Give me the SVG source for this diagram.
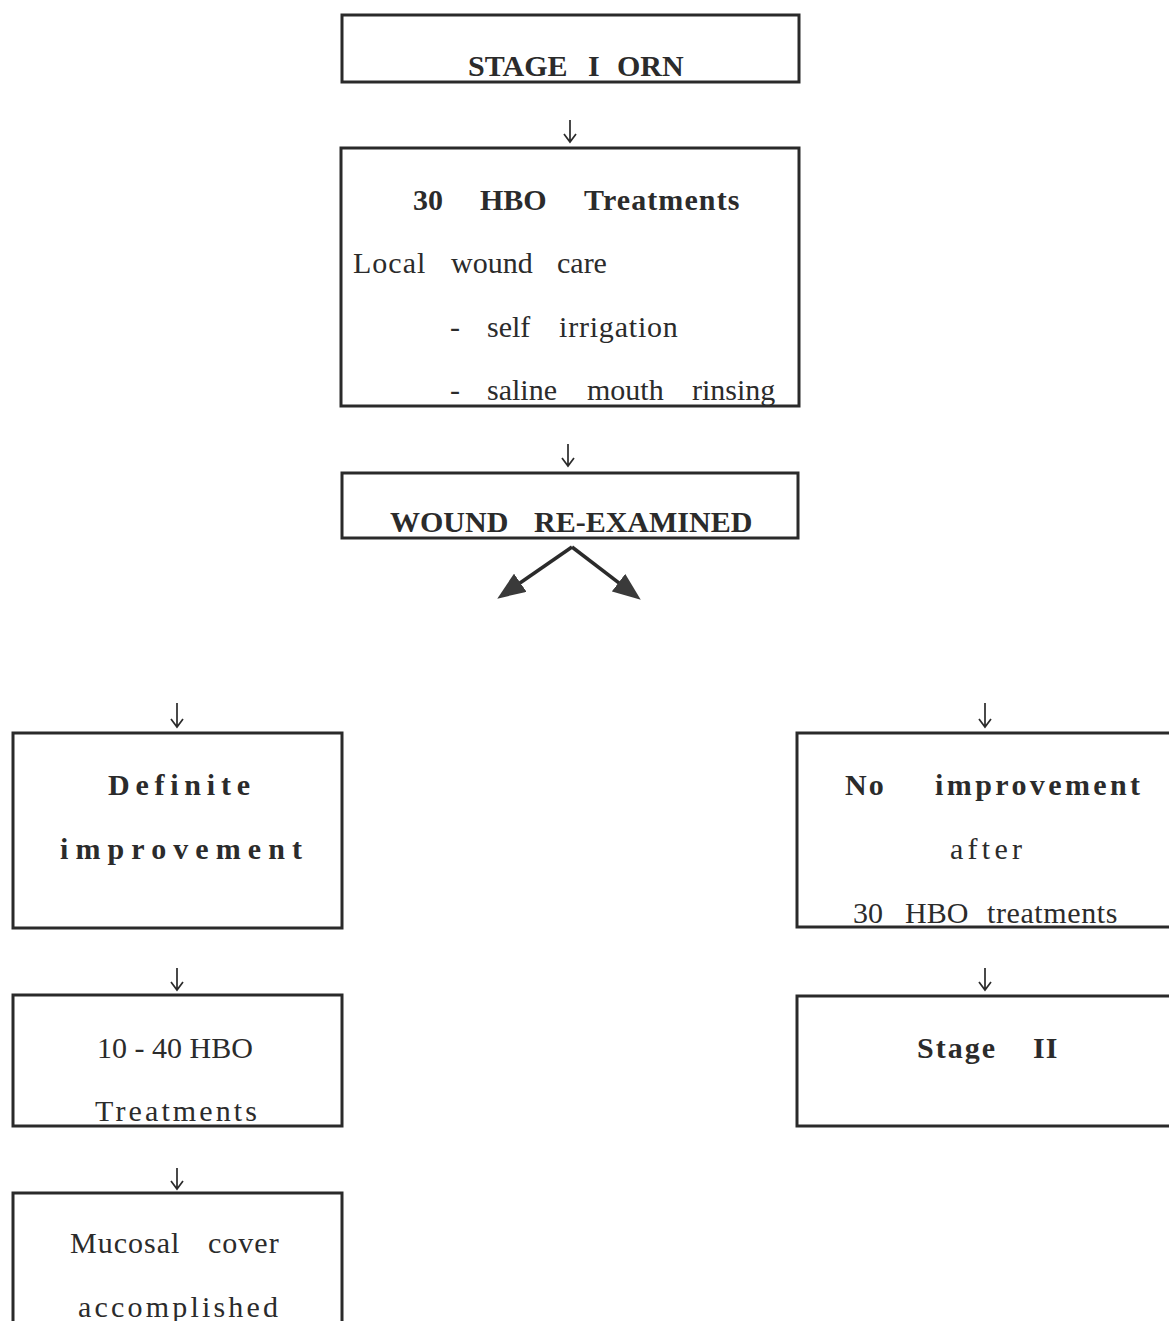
<svg xmlns="http://www.w3.org/2000/svg" width="1169" height="1321" viewBox="0 0 1169 1321">
<style>
.box{fill:#fff;stroke:#2a2a2a;stroke-width:3}
.t{font-family:"Liberation Serif","Times New Roman",serif;font-size:30px;fill:#2b2b2b}
.b{font-weight:bold}
.down{fill:none;stroke:#2b2b2b;stroke-width:1.7}
.diag{fill:none;stroke:#2b2b2b;stroke-width:3.5}
</style>
<defs>
<marker id="head" viewBox="0 0 28 22" refX="7" refY="11" markerUnits="userSpaceOnUse" markerWidth="28" markerHeight="22" orient="auto">
<path d="M0,0 L28,11 L0,22 z" fill="#3a3a3a"/>
</marker>
</defs>
<rect width="1169" height="1321" fill="#fff"/>
<g id="connectors">
<path class="down" d="M570,120 V142 M564,134 L570,142 L576,134"/>
<path class="down" d="M568,444 V466 M562,458 L568,466 L574,458"/>
<line class="diag" x1="572" y1="547" x2="514.5" y2="586.7" marker-end="url(#head)"/>
<line class="diag" x1="572" y1="547" x2="624.1" y2="586.9" marker-end="url(#head)"/>
<path class="down" d="M177,703 V727 M171,719 L177,727 L183,719"/>
<path class="down" d="M985,703 V727 M979,719 L985,727 L991,719"/>
<path class="down" d="M177,968 V990 M171,982 L177,990 L183,982"/>
<path class="down" d="M985,968 V990 M979,982 L985,990 L991,982"/>
<path class="down" d="M177,1168 V1189 M171,1181 L177,1189 L183,1181"/>
</g>
<g id="stage1">
<rect class="box" x="342" y="15" width="457" height="67"/>
<text class="t b" y="76"><tspan x="468">STAGE</tspan><tspan x="588">I</tspan><tspan x="617">ORN</tspan></text>
</g>
<g id="hbo30">
<rect class="box" x="341" y="148" width="458" height="258"/>
<text class="t b" y="210"><tspan x="413">30</tspan><tspan x="480">HBO</tspan><tspan x="584" letter-spacing="1.1">Treatments</tspan></text>
<text class="t" y="273"><tspan x="353" letter-spacing="1">Local</tspan><tspan x="451">wound</tspan><tspan x="557">care</tspan></text>
<text class="t" y="337"><tspan x="450">-</tspan><tspan x="487">self</tspan><tspan x="559" letter-spacing="0.8">irrigation</tspan></text>
<text class="t" y="400"><tspan x="450">-</tspan><tspan x="487">saline</tspan><tspan x="587">mouth</tspan><tspan x="692">rinsing</tspan></text>
</g>
<g id="wound">
<rect class="box" x="342" y="473" width="456" height="65"/>
<text class="t b" y="532"><tspan x="390">WOUND</tspan><tspan x="534">RE-EXAMINED</tspan></text>
</g>
<g id="definite">
<rect class="box" x="13" y="733" width="329" height="195"/>
<text class="t b" x="108" y="795" textLength="142" lengthAdjust="spacing">Definite</text>
<text class="t b" x="60" y="859" textLength="242" lengthAdjust="spacing">improvement</text>
</g>
<g id="noimprove">
<rect class="box" x="797" y="733" width="390" height="194"/>
<text class="t b" y="795"><tspan x="845" letter-spacing="2">No</tspan><tspan x="935" letter-spacing="3.4">improvement</tspan></text>
<text class="t" x="950" y="859" textLength="72" lengthAdjust="spacing">after</text>
<text class="t" y="923"><tspan x="853">30</tspan><tspan x="905">HBO</tspan><tspan x="987" letter-spacing="0.6">treatments</tspan></text>
</g>
<g id="hbo1040">
<rect class="box" x="13" y="995" width="329" height="131"/>
<text class="t" x="97" y="1058">10 - 40 HBO</text>
<text class="t" x="95" y="1121" textLength="162" lengthAdjust="spacing">Treatments</text>
</g>
<g id="mucosal">
<rect class="box" x="13" y="1193" width="329" height="200"/>
<text class="t" y="1253"><tspan x="70" letter-spacing="1">Mucosal</tspan><tspan x="208" letter-spacing="1">cover</tspan></text>
<text class="t" x="78" y="1317" textLength="200" lengthAdjust="spacing">accomplished</text>
</g>
<g id="stage2">
<rect class="box" x="797" y="996" width="390" height="130"/>
<text class="t b" y="1058"><tspan x="917" letter-spacing="2">Stage</tspan><tspan x="1033" letter-spacing="1">II</tspan></text>
</g>
</svg>
